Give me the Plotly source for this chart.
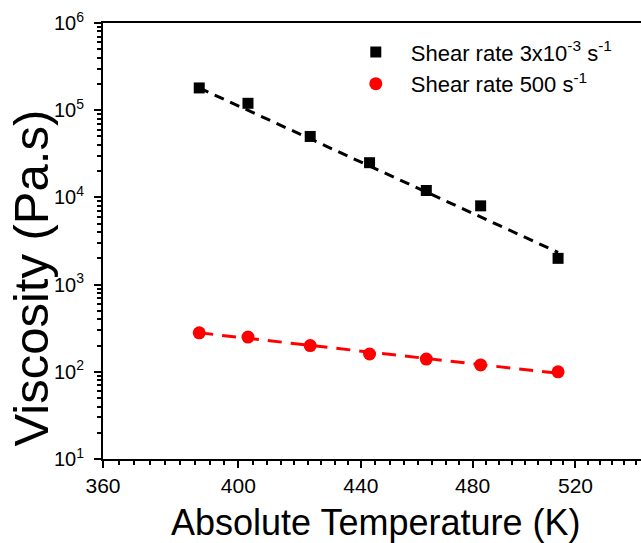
import numpy as np
import plotly.graph_objects as go

# ---- data ----
temperature_K = [388, 403, 423, 443, 463, 483, 513]
visc_low_shear = [180000, 120000, 50000, 25000, 12000, 8000, 2000]   # 3x10^-3 s^-1
visc_high_shear = [280, 250, 200, 160, 140, 120, 100]                # 500 s^-1

fit_T = [388, 513]
fit_low_shear = [180000, 2340]
fit_high_shear = [280, 96]

x_tick_vals = [360, 400, 440, 480, 520]
y_tick_vals = [10, 100, 1000, 10000, 100000, 1000000]
y_tick_text = ["10<sup>1</sup>", "10<sup>2</sup>", "10<sup>3</sup>", "10<sup>4</sup>",
               "10<sup>5</sup>", "10<sup>6</sup>"]

x_title = "Absolute Temperature (K)"
y_title = "Viscosity (Pa.s)"

# minor ticks
x_minor = []
for a, b, n in [(360, 400, 9), (400, 440, 9), (440, 480, 8), (480, 520, 8)]:
    x_minor += [a + (b - a) * k / n for k in range(1, n)]
x_minor += [525, 530, 535, 540, 545]
y_minor = [m * 10 ** d for d in range(1, 6) for m in range(2, 10)]

FONT = "Arial, Liberation Sans, sans-serif"

fig = go.Figure()

fig.add_trace(go.Scatter(x=fit_T, y=fit_low_shear, mode="lines",
                         line=dict(color="black", width=3, dash="10px,7px"),
                         showlegend=False, hoverinfo="skip"))
fig.add_trace(go.Scatter(x=fit_T, y=fit_high_shear, mode="lines",
                         line=dict(color="#ff0000", width=3, dash="14px,9px"),
                         showlegend=False, hoverinfo="skip"))

fig.add_trace(go.Scatter(x=temperature_K, y=visc_low_shear, mode="markers",
                         name="Shear rate 3x10<sup>-3</sup> s<sup>-1</sup>",
                         marker=dict(symbol="square", size=11, color="black")))
fig.add_trace(go.Scatter(x=temperature_K, y=visc_high_shear, mode="markers",
                         name="Shear rate 500 s<sup>-1</sup>",
                         marker=dict(symbol="circle", size=13, color="#ff0000")))

fig.update_layout(
    width=641, height=543,
    margin=dict(l=103, r=0, t=23, b=84),
    paper_bgcolor="white", plot_bgcolor="white",
    font=dict(family=FONT, color="black"),
    legend=dict(x=0.442, y=0.981, xanchor="left", yanchor="top",
                bgcolor="rgba(0,0,0,0)", font=dict(size=22, family=FONT),
                tracegroupgap=0, itemwidth=60),
    showlegend=True,
    annotations=[
        dict(text=x_title, xref="paper", yref="paper", x=0.508, y=-0.1455,
             xanchor="center", yanchor="middle", showarrow=False,
             font=dict(size=36, family=FONT, color="black")),
        dict(text=y_title, xref="paper", yref="paper", x=-0.133, y=0.415,
             xanchor="center", yanchor="middle", showarrow=False, textangle=-90,
             font=dict(size=49, family=FONT, color="black")),
    ],
)

fig.update_xaxes(
    type="log", automargin=False,
    range=[np.log10(360), np.log10(547.2)],
    tickvals=x_tick_vals, ticktext=[str(v) for v in x_tick_vals],
    ticks="outside", ticklen=7, tickwidth=2, tickcolor="black",
    showline=True, linewidth=2, linecolor="black", mirror=True,
    showgrid=False, zeroline=False,
    tickfont=dict(size=21, family=FONT),
    minor=dict(tickvals=x_minor, ticks="outside", ticklen=4, tickwidth=1.5,
               tickcolor="black", showgrid=False),
)
fig.update_yaxes(
    type="log", automargin=False,
    range=[1, 6],
    tickvals=y_tick_vals, ticktext=y_tick_text,
    ticks="outside", ticklen=7, tickwidth=2, tickcolor="black",
    showline=True, linewidth=2, linecolor="black", mirror=False,
    showgrid=False, zeroline=False,
    tickfont=dict(size=20, family=FONT), ticklabelstandoff=6,
    minor=dict(tickvals=y_minor, ticks="outside", ticklen=4, tickwidth=1.5,
               tickcolor="black", showgrid=False),
)

fig.write_html("out.html",
               config={"displayModeBar": False},
               post_script="document.body.style.margin='0px';"
                           "document.body.style.overflow='hidden';")
